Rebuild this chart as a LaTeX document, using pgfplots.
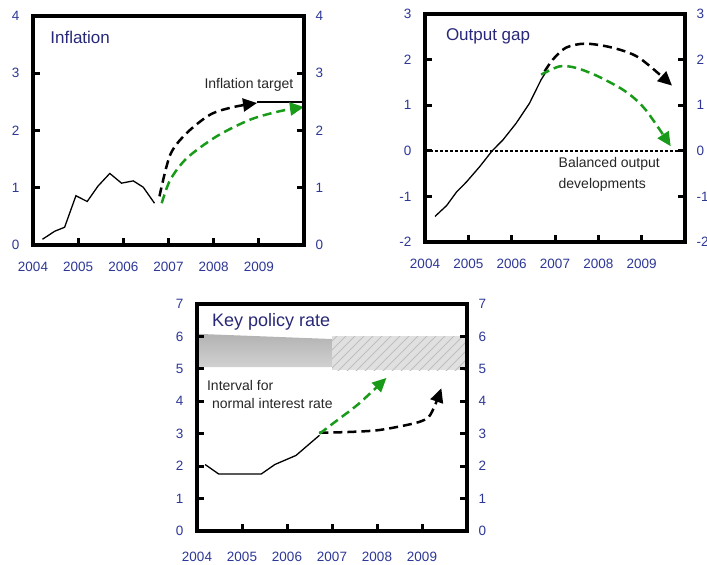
\documentclass[border=0pt]{standalone}
\usepackage{pgfplots}
\pgfplotsset{compat=1.18}
\usepackage{fontspec}
\setmainfont{Liberation Sans}
\usetikzlibrary{arrows.meta,patterns}
\definecolor{tickblue}{RGB}{45,55,150}
\definecolor{titlenavy}{RGB}{40,40,120}
\definecolor{fcgreen}{RGB}{25,155,25}
\pgfdeclarepatternformonly{widelines}{\pgfqpoint{-1pt}{-1pt}}{\pgfqpoint{10pt}{10pt}}{\pgfqpoint{9pt}{9pt}}{%
  \pgfsetlinewidth{1pt}\pgfpathmoveto{\pgfqpoint{0pt}{0pt}}\pgfpathlineto{\pgfqpoint{9.1pt}{9.1pt}}\pgfusepath{stroke}}
\newcommand{\tickfont}{\fontsize{13.5}{15}\selectfont}
\pgfplotsset{
 panel/.style={
   scale only axis, anchor=south west,
   xmin=0, xmax=6,
   xtick={0,1,2,3,4,5,6},
   xticklabels={2004,2005,2006,2007,2008,2009,{}},
   xtick pos=left,
   tick align=inside,
   major tick length=7pt,
   every tick/.style={line width=3pt, black},
   axis line style={line width=3.4pt},
   tick label style={font=\tickfont, text=tickblue},
   xticklabel style={yshift=-14pt},
   yticklabel style={xshift=-10pt},
   clip=false,
   /pgf/number format/assume math mode=true,
 },
 rightlabels/.style={
   scale only axis, anchor=south west,
   xmin=0, xmax=6, xtick=\empty,
   axis line style={draw=none},
   ytick style={draw=none},
   ytick pos=right, yticklabel pos=right,
   tick label style={font=\tickfont, text=tickblue},
   yticklabel style={xshift=8pt},
   /pgf/number format/assume math mode=true,
 },
 hist/.style={black, line width=1.3pt, mark=none},
 framest/.style={black, line width=3.4pt, line join=miter, mark=none, forget plot},
 stub/.style={black, line width=3pt, mark=none, forget plot},
 dashblack/.style={black, line width=2.5pt, dash pattern=on 9pt off 5pt, smooth, mark=none, -{Triangle[length=14pt,width=13pt]}},
 dashgreen/.style={fcgreen, line width=2.5pt, dash pattern=on 9pt off 5pt, smooth, mark=none, -{Triangle[length=14pt,width=13pt]}},
}
\begin{document}
\begin{tikzpicture}
\path[use as bounding box] (0pt,0pt) rectangle (707pt,565pt);

% ---------------- Inflation (x = years since 2004) ----------------
\begin{axis}[panel, at={(33pt,320pt)}, width=271pt, height=229pt, ymin=0, ymax=4, ytick={0,1,2,3,4}]
\addplot[hist] coordinates {(0.21,0.10) (0.48,0.24) (0.70,0.31) (0.95,0.86) (1.2,0.76) (1.44,1.03) (1.70,1.25) (1.96,1.08) (2.22,1.12) (2.44,1.01) (2.69,0.73)};
\addplot[dashblack] coordinates {(2.80,0.85) (3.04,1.58) (3.41,1.96) (3.93,2.28) (4.44,2.41) (4.96,2.48)};
\addplot[black, line width=2.2pt, mark=none] coordinates {(4.96,2.5) (6,2.5)};
\addplot[dashgreen] coordinates {(2.85,0.73) (3.04,1.14) (3.41,1.52) (4.07,1.9) (4.81,2.19) (5.48,2.34) (6.0,2.41)};
\node[font=\fontsize{14}{16}\selectfont, text=black!85] at (axis cs:4.78,2.80) {Inflation target};
\node[anchor=west, inner sep=0pt, font=\fontsize{17}{19}\selectfont, text=titlenavy] at (axis cs:0.38,3.62) {Inflation};
\addplot[framest] coordinates {(0,0) (6,0) (6,4) (0,4)} -- cycle;
\pgfplotsinvokeforeach{1,2,3,4,5}{\addplot[stub] coordinates {(#1,0) (#1,0.13)};}
\pgfplotsinvokeforeach{1,2,3}{\addplot[stub] coordinates {(0,#1) (0.16,#1)}; \addplot[stub] coordinates {(6,#1) (5.84,#1)};}
\end{axis}
\begin{axis}[rightlabels, at={(33pt,320pt)}, width=271pt, height=229pt, ymin=0, ymax=4, ytick={0,1,2,3,4}]
\end{axis}

% ---------------- Output gap ----------------
\begin{axis}[panel, at={(425pt,323pt)}, width=260pt, height=228pt, ymin=-2, ymax=3, ytick={-2,-1,0,1,2,3}]
\addplot[black, line width=1.8pt, dash pattern=on 3pt off 2pt, mark=none] coordinates {(0,0) (6,0)};
\addplot[hist] coordinates {(0.23,-1.44) (0.5,-1.2) (0.73,-0.9) (0.96,-0.68) (1.26,-0.35) (1.55,0) (1.8,0.24) (2.1,0.6) (2.41,1.04) (2.68,1.56) (2.8,1.74)};
\addplot[dashblack] coordinates {(2.76,1.74) (2.95,2.0) (3.25,2.26) (3.7,2.35) (4.33,2.26) (4.94,2.04) (5.70,1.43)};
\addplot[dashgreen] coordinates {(2.68,1.67) (3.1,1.85) (3.48,1.82) (4.0,1.63) (4.63,1.3) (5.09,0.9) (5.67,0.10)};
\node[anchor=north west, align=left, inner sep=0pt, font=\fontsize{14}{21}\selectfont, text=black!85] at (axis cs:3.08,-0.13) {Balanced output\\developments};
\node[anchor=west, inner sep=0pt, font=\fontsize{17}{19}\selectfont, text=titlenavy] at (axis cs:0.48,2.51) {Output gap};
\addplot[framest] coordinates {(0,-2) (6,-2) (6,3) (0,3)} -- cycle;
\pgfplotsinvokeforeach{1,2,3,4,5}{\addplot[stub] coordinates {(#1,-2) (#1,-1.85)};}
\pgfplotsinvokeforeach{-1,0,1,2}{\addplot[stub] coordinates {(0,#1) (0.16,#1)}; \addplot[stub] coordinates {(6,#1) (5.84,#1)};}
\end{axis}
\begin{axis}[rightlabels, at={(425pt,323pt)}, width=260pt, height=228pt, ymin=-2, ymax=3, ytick={-2,-1,0,1,2,3}]
\end{axis}

% ---------------- Key policy rate ----------------
\begin{axis}[panel, at={(197pt,34pt)}, width=270pt, height=227pt, ymin=0, ymax=7, ytick={0,1,2,3,4,5,6,7}, xticklabel style={yshift=-4pt}]
\addplot[draw=none, top color=black!30, bottom color=black!18, mark=none] coordinates {(0,5.05) (0,6.08) (3,5.92) (3,5.05)} -- cycle;
\addplot[draw=none, fill=black!12, mark=none] coordinates {(3,4.95) (3,6.0) (6,6.0) (6,4.95)} -- cycle;
\addplot[draw=none, pattern=widelines, pattern color=black!25, mark=none] coordinates {(3,4.95) (3,6.0) (6,6.0) (6,4.95)} -- cycle;
\addplot[hist] coordinates {(0.18,2.05) (0.48,1.76) (1.43,1.76) (1.73,2.05) (2.2,2.33) (2.46,2.64) (2.72,2.95)};
\addplot[dashblack] coordinates {(2.72,3.03) (3.31,3.05) (3.97,3.1) (4.49,3.22) (4.93,3.36) (5.15,3.52) (5.29,3.88) (5.43,4.40)};
\addplot[dashgreen] coordinates {(2.72,3.0) (3.16,3.46) (3.6,3.93) (4.21,4.72)};
\node[anchor=west, inner sep=0pt, font=\fontsize{14}{16}\selectfont, text=black!85] at (axis cs:0.22,4.5) {Interval for};
\node[anchor=west, inner sep=0pt, font=\fontsize{14}{16}\selectfont, text=black!85] at (axis cs:0.33,3.93) {normal interest rate};
\node[anchor=west, inner sep=0pt, font=\fontsize{18}{20}\selectfont, text=titlenavy] at (axis cs:0.33,6.46) {Key policy rate};
\addplot[framest] coordinates {(0,0) (6,0) (6,7) (0,7)} -- cycle;
\pgfplotsinvokeforeach{1,2,3,4,5}{\addplot[stub] coordinates {(#1,0) (#1,0.22)};}
\pgfplotsinvokeforeach{1,2,3,4,5,6}{\addplot[stub] coordinates {(0,#1) (0.16,#1)}; \addplot[stub] coordinates {(6,#1) (5.84,#1)};}
\end{axis}
\begin{axis}[rightlabels, at={(197pt,34pt)}, width=270pt, height=227pt, ymin=0, ymax=7, ytick={0,1,2,3,4,5,6,7}]
\end{axis}
\end{tikzpicture}
\end{document}
